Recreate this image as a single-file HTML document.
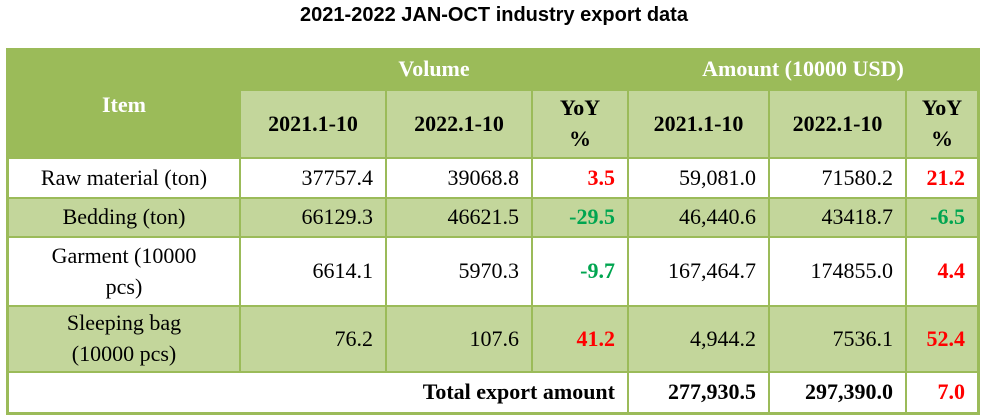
<!DOCTYPE html>
<html><head><meta charset="utf-8"><style>
body{margin:0;width:988px;height:419px;background:#fff;position:relative;overflow:hidden;font-family:"Liberation Serif",serif;}
.c{position:absolute;box-sizing:border-box;display:flex;align-items:center;font-size:22px;color:#000;line-height:1.4;}
.d{background:#9BBB59;color:#fff;font-weight:bold;justify-content:center;text-align:center;}
.l{background:#C3D69B;}
.w{background:#fff;}
.r{justify-content:flex-end;padding-right:12px;}
.m{justify-content:center;text-align:center;}
.b{font-weight:bold;}
.red{color:#f00;font-weight:bold;}
.grn{color:#00a550;font-weight:bold;}
</style></head><body>
<div style="position:absolute;left:0;width:988px;top:4px;text-align:center;font:bold 20px 'Liberation Sans',sans-serif;">2021-2022 JAN-OCT industry export data</div>
<div style="position:absolute;left:6px;top:48px;width:974px;height:367px;background:#9BBB59;"></div>
<div id="t"></div>
<script>
const cols=[8,240,386,532,628,769,906,978];
const rowsY=[158,198,237,306,372,413];
const items=["Raw material (ton)","Bedding (ton)","Garment (10000<br>pcs)","Sleeping bag<br>(10000 pcs)"];
const vol21=["37757.4","66129.3","6614.1","76.2"];
const vol22=["39068.8","46621.5","5970.3","107.6"];
const volYoy=["3.5","-29.5","-9.7","41.2"];
const amt21=["59,081.0","46,440.6","167,464.7","4,944.2"];
const amt22=["71580.2","43418.7","174855.0","7536.1"];
const amtYoy=["21.2","-6.5","4.4","52.4"];
const total=["277,930.5","297,390.0","7.0"];
const t=document.getElementById('t');
function cell(x0,x1,y0,y1,cls,txt,name){
 const e=document.createElement('div');
 e.className='c '+cls;
 e.style.left=(x0+1)+'px';e.style.top=(y0+1)+'px';
 e.style.width=(x1-x0-2)+'px';e.style.height=(y1-y0-2)+'px';
 e.textContent=txt;
 
 
 t.appendChild(e);return e;
}
const it=cell(cols[0],cols[1],49,158,'d','Item','item-header');
it.style.alignItems='flex-start';it.style.paddingTop='40px';
cell(cols[1],cols[4],49,90,'d','Volume','volume-header');
cell(cols[4],cols[7],49,90,'d','Amount (10000 USD)','amount-header');
const sub=['2021.1-10','2022.1-10','YoY %','2021.1-10','2022.1-10','YoY %'];
for(let i=0;i<6;i++){
 const e=cell(cols[i+1],cols[i+2],90,158,'l m b',sub[i],'subheader-'+i);
 if(sub[i]==='YoY %'){e.innerHTML='YoY<br>%';}
}
for(let r=0;r<4;r++){
 const bg=r%2?'l':'w';
 const y0=rowsY[r],y1=rowsY[r+1];
 cell(cols[0],cols[1],y0,y1,bg+' m','','item-label').innerHTML=items[r];
 cell(cols[1],cols[2],y0,y1,bg+' r',vol21[r],'volume-2021');
 cell(cols[2],cols[3],y0,y1,bg+' r',vol22[r],'volume-2022');
 cell(cols[3],cols[4],y0,y1,bg+' r '+(parseFloat(volYoy[r])<0?'grn':'red'),volYoy[r],'volume-yoy');
 cell(cols[4],cols[5],y0,y1,bg+' r',amt21[r],'amount-2021');
 cell(cols[5],cols[6],y0,y1,bg+' r',amt22[r],'amount-2022');
 cell(cols[6],cols[7],y0,y1,bg+' r '+(parseFloat(amtYoy[r])<0?'grn':'red'),amtYoy[r],'amount-yoy');
}
cell(cols[0],cols[4],372,413,'w r b','Total export amount','total-label');
cell(cols[4],cols[5],372,413,'w r b',total[0],'total-2021');
cell(cols[5],cols[6],372,413,'w r b',total[1],'total-2022');
cell(cols[6],cols[7],372,413,'w r red',total[2],'total-yoy');
</script>
</body></html>
